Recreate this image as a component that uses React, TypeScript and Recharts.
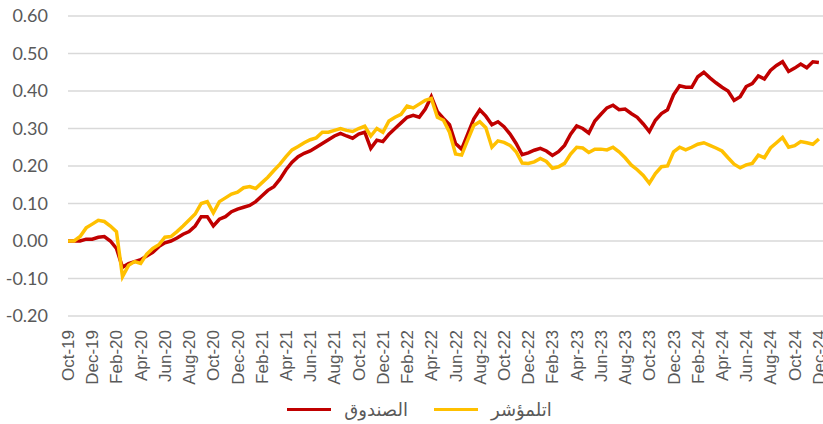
import React from "react";
import { CartesianGrid, Legend, Line, LineChart, XAxis, YAxis } from "recharts";

// x = months since Oct-19, sampled every half month
const months = [
  0, 0.5, 1, 1.5, 2, 2.5, 3, 3.5, 4, 4.5, 5, 5.5, 6, 6.5, 7, 7.5, 8, 8.5, 9, 9.5,
  10, 10.5, 11, 11.5, 12, 12.5, 13, 13.5, 14, 14.5, 15, 15.5, 16, 16.5, 17, 17.5, 18, 18.5, 19, 19.5,
  20, 20.5, 21, 21.5, 22, 22.5, 23, 23.5, 24, 24.5, 25, 25.5, 26, 26.5, 27, 27.5, 28, 28.5, 29, 29.5,
  30, 30.5, 31, 31.5, 32, 32.5, 33, 33.5, 34, 34.5, 35, 35.5, 36, 36.5, 37, 37.5, 38, 38.5, 39, 39.5,
  40, 40.5, 41, 41.5, 42, 42.5, 43, 43.5, 44, 44.5, 45, 45.5, 46, 46.5, 47, 47.5, 48, 48.5, 49, 49.5,
  50, 50.5, 51, 51.5, 52, 52.5, 53, 53.5, 54, 54.5, 55, 55.5, 56, 56.5, 57, 57.5, 58, 58.5, 59, 59.5,
  60, 60.5, 61, 61.5, 62
];

// الصندوق
const fund = [
  0.0, 0.0, 0.0, 0.005, 0.005, 0.01, 0.012, 0.0, -0.02, -0.07,
  -0.06, -0.055, -0.05, -0.04, -0.03, -0.015, -0.005, 0.0, 0.008, 0.018,
  0.025, 0.04, 0.065, 0.065, 0.04, 0.058, 0.065, 0.078, 0.085, 0.09,
  0.095, 0.105, 0.12, 0.135, 0.145, 0.165, 0.19, 0.21, 0.225, 0.234,
  0.24, 0.25, 0.26, 0.27, 0.28, 0.287, 0.28, 0.274, 0.285, 0.29,
  0.247, 0.269, 0.265, 0.285, 0.3, 0.315, 0.33, 0.335, 0.33, 0.352,
  0.385, 0.345, 0.327, 0.31, 0.26, 0.245, 0.285, 0.325, 0.35, 0.333,
  0.31, 0.318, 0.305, 0.285, 0.26, 0.23, 0.235, 0.242, 0.247, 0.24,
  0.228, 0.238, 0.255, 0.285, 0.307, 0.3, 0.288, 0.32, 0.338, 0.355,
  0.362, 0.35, 0.352, 0.34, 0.33, 0.312, 0.292, 0.322, 0.34, 0.35,
  0.39, 0.414, 0.41, 0.41, 0.438, 0.45, 0.435, 0.422, 0.41, 0.4,
  0.375, 0.385, 0.412, 0.42, 0.44, 0.432, 0.455, 0.468, 0.478, 0.452,
  0.461, 0.472, 0.462, 0.478, 0.476
];

// المؤشر
const index = [
  0.0, 0.0, 0.012, 0.035, 0.045, 0.055, 0.052, 0.04, 0.025, -0.095,
  -0.065, -0.055, -0.06, -0.035, -0.02, -0.01, 0.01, 0.012, 0.025, 0.04,
  0.056, 0.072, 0.1, 0.105, 0.075, 0.105, 0.115, 0.125, 0.13, 0.142,
  0.145, 0.14, 0.155, 0.17, 0.188, 0.205, 0.225, 0.243, 0.252, 0.262,
  0.27, 0.275, 0.29, 0.29, 0.295, 0.3, 0.295, 0.292, 0.3, 0.306,
  0.28, 0.3, 0.29, 0.32, 0.33, 0.338, 0.36, 0.355, 0.365, 0.375,
  0.38, 0.33, 0.322, 0.29, 0.232, 0.229, 0.269, 0.308, 0.318, 0.302,
  0.25, 0.267, 0.263, 0.255, 0.238, 0.208, 0.207, 0.211, 0.22, 0.212,
  0.194, 0.198, 0.207, 0.232, 0.25, 0.248, 0.236, 0.245, 0.245, 0.243,
  0.25, 0.238, 0.222, 0.203, 0.19, 0.175, 0.154, 0.18, 0.198, 0.2,
  0.238, 0.25, 0.243, 0.25, 0.258, 0.262, 0.255, 0.248, 0.24, 0.222,
  0.205, 0.195, 0.203, 0.207, 0.229, 0.222, 0.248, 0.262, 0.276, 0.25,
  0.254, 0.265, 0.262, 0.258, 0.272
];

const tickMonths = [
  0, 2, 4, 6, 8, 10, 12, 14, 16, 18, 20, 22, 24, 26, 28, 30,
  32, 34, 36, 38, 40, 42, 44, 46, 48, 50, 52, 54, 56, 58, 60, 62
];
const tickLabels = [
  "Oct-19", "Dec-19", "Feb-20", "Apr-20", "Jun-20", "Aug-20", "Oct-20", "Dec-20",
  "Feb-21", "Apr-21", "Jun-21", "Aug-21", "Oct-21", "Dec-21", "Feb-22", "Apr-22",
  "Jun-22", "Aug-22", "Oct-22", "Dec-22", "Feb-23", "Apr-23", "Jun-23", "Aug-23",
  "Oct-23", "Dec-23", "Feb-24", "Apr-24", "Jun-24", "Aug-24", "Oct-24", "Dec-24"
];
const yTicks = [-0.2, -0.1, 0, 0.1, 0.2, 0.3, 0.4, 0.5, 0.6];

const FUND_LABEL = "الصندوق";
const INDEX_LABEL = "اتلمؤشر";
const FUND_COLOR = "#C00000";
const INDEX_COLOR = "#FFC000";
const TEXT = "#595959";

const data = months.map((m, i) => ({ m, fund: fund[i], index: index[i] }));

function MonthTick(props: any) {
  const { x, y, payload } = props;
  const i = tickMonths.indexOf(payload.value);
  return (
    <g transform={`translate(${x},${y})`}>
      <text
        transform="rotate(-90)"
        x={-6}
        y={0}
        dy={6}
        textAnchor="end"
        fill={TEXT}
        fontSize={17}
        fontFamily="'Liberation Sans', Arial, sans-serif"
      >
        {tickLabels[i]}
      </text>
    </g>
  );
}

function LegendBox() {
  const items = [
    { label: FUND_LABEL, color: FUND_COLOR },
    { label: INDEX_LABEL, color: INDEX_COLOR }
  ];
  return (
    <div
      style={{
        display: "flex",
        justifyContent: "center",
        alignItems: "center",
        height: 30,
        gap: 26,
        fontFamily: "'DejaVu Sans', sans-serif",
        fontSize: 18,
        color: TEXT
      }}
    >
      {items.map((it) => (
        <div key={it.label} style={{ display: "flex", alignItems: "center", gap: 13 }}>
          <span style={{ width: 44, height: 3, background: it.color, display: "inline-block" }} />
          <span>{it.label}</span>
        </div>
      ))}
    </div>
  );
}

export default function App() {
  return (
    <div
      style={{
        position: "fixed",
        left: 0,
        top: 0,
        width: 823,
        height: 424,
        overflow: "hidden",
        background: "#fff"
      }}
    >
      <LineChart
        width={860}
        height={424}
        data={data}
        margin={{ top: 16, right: 29, left: 8, bottom: 0 }}
      >
        <CartesianGrid vertical={false} stroke="#D9D9D9" strokeWidth={1.5} />
        <XAxis
          dataKey="m"
          type="number"
          domain={[0, 63]}
          ticks={tickMonths}
          interval={0}
          tick={<MonthTick />}
          tickLine={false}
          axisLine={false}
          height={78}
        />
        <YAxis
          domain={[-0.2, 0.6]}
          ticks={yTicks}
          tickFormatter={(v: number) => v.toFixed(2)}
          tick={{ fill: TEXT, fontSize: 18, fontFamily: "Lato, 'Liberation Sans', sans-serif" }}
          tickLine={false}
          axisLine={false}
          tickMargin={14}
          width={60}
          allowDataOverflow
        />
        <Legend verticalAlign="bottom" height={30} content={() => <LegendBox />} />
        <Line
          type="linear"
          dataKey="fund"
          stroke={FUND_COLOR}
          strokeWidth={3.5}
          dot={false}
          isAnimationActive={false}
        />
        <Line
          type="linear"
          dataKey="index"
          stroke={INDEX_COLOR}
          strokeWidth={3.5}
          dot={false}
          isAnimationActive={false}
        />
      </LineChart>
    </div>
  );
}
